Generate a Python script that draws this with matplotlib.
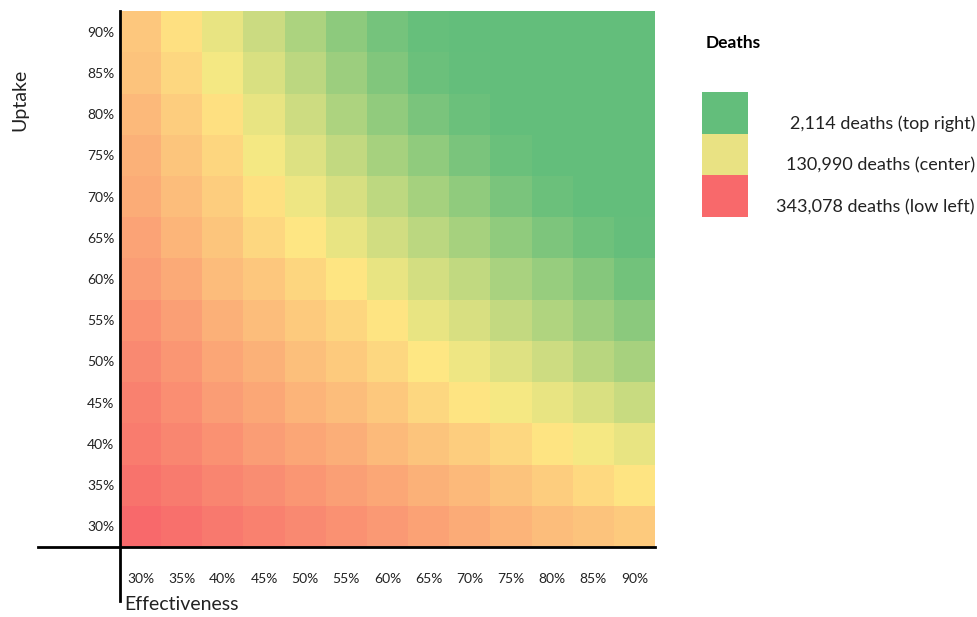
import numpy as np
import matplotlib
matplotlib.use("Agg")
import matplotlib.pyplot as plt
from matplotlib.colors import LinearSegmentedColormap, TwoSlopeNorm
from matplotlib.patches import Rectangle

plt.rcParams['font.family'] = ['Lato', 'DejaVu Sans']

# vaccine effectiveness (columns) and uptake (rows), in percent
effectiveness = [30, 35, 40, 45, 50, 55, 60, 65, 70, 75, 80, 85, 90]
uptake = [30, 35, 40, 45, 50, 55, 60, 65, 70, 75, 80, 85, 90]

# deaths, one row per uptake level (30% first)
deaths = [
    [343078, 330000, 315000, 302000, 290000, 276000, 262000, 250000, 235000, 220000, 205000, 194000, 184000],
    [326000, 313000, 296000, 283000, 268000, 254000, 241000, 224000, 211000, 194000, 178000, 160000, 141000],
    [311000, 294000, 276000, 258000, 243000, 229000, 209000, 193000, 178000, 163000, 141000, 123000, 112000],
    [302000, 281000, 258000, 241000, 220000, 205000, 186000, 163000, 141000, 123000, 112000, 100000, 86000],
    [290000, 267000, 243000, 224000, 201000, 184000, 164000, 137000, 117000, 104000, 90000, 73000, 59000],
    [276000, 254000, 226000, 205000, 184000, 165000, 141000, 112000, 99000, 82000, 66000, 51000, 36000],
    [258000, 236000, 207000, 188000, 165000, 140000, 112000, 95000, 80000, 61000, 46000, 31000, 16000],
    [247000, 218000, 191000, 163000, 139000, 112000, 93000, 75000, 58000, 40000, 25000, 12000, 4500],
    [233000, 205000, 178000, 148000, 117000, 98000, 77000, 57000, 40000, 22000, 10000, 3000, 2500],
    [224000, 191000, 165000, 122000, 103000, 81000, 58000, 40000, 22000, 9000, 3000, 2500, 2200],
    [211000, 178000, 148000, 112000, 90000, 64000, 41000, 22000, 10000, 3000, 2400, 2200, 2150],
    [194000, 163000, 122000, 100000, 76000, 50000, 28000, 10000, 3500, 2200, 2150, 2130, 2120],
    [188000, 149000, 112000, 88000, 63000, 38000, 18000, 6000, 2600, 2150, 2130, 2120, 2114],
]

legend_labels = ["2,114 deaths (top right)", "130,990 deaths (center)", "343,078 deaths (low left)"]
legend_colors = ["#63BE7B", "#E9E283", "#F8696B"]

data = np.array(deaths, dtype=float)
cmap = LinearSegmentedColormap.from_list("gyr", ["#63BE7B", "#FFEB84", "#F8696B"])
norm = TwoSlopeNorm(vmin=2114, vcenter=130990, vmax=343078)

fig = plt.figure(figsize=(9.78, 6.17), dpi=100)
ax = fig.add_axes([120 / 978, 1 - 547 / 617, 535 / 978, 536 / 617])
ax.imshow(data, cmap=cmap, norm=norm, origin="lower", aspect="auto")

for s in ax.spines.values():
    s.set_visible(False)
ax.set_xticks(range(len(effectiveness)), [f"{v}%" for v in effectiveness])
ax.set_yticks(range(len(uptake)), [f"{v}%" for v in uptake])
ax.tick_params(length=0, labelsize=10, colors="#222222")
ax.tick_params(axis="x", pad=19)
ax.tick_params(axis="y", pad=4)

# long black axis lines reaching past the grid
ax.plot([0, 0], [1, -0.1], color="black", lw=2, transform=ax.transAxes, clip_on=False)
ax.plot([-0.153, 1], [0, 0], color="black", lw=2, transform=ax.transAxes, clip_on=False)

fig.text(124 / 978, 1 - 605 / 617, "Effectiveness", fontsize=14, ha="left", va="center", color="#222222")
fig.text(20 / 978, 1 - 100 / 617, "Uptake", fontsize=14, rotation=90, ha="center", va="center", color="#222222")

# legend
fig.text(706 / 978, 1 - 43 / 617, "Deaths", fontsize=12.5, fontweight="bold", ha="left", va="center")
box_h = 41.5
for i, (lab, col) in enumerate(zip(legend_labels, legend_colors)):
    top = 92 + i * box_h
    fig.add_artist(Rectangle((702 / 978, 1 - (top + box_h) / 617), 46 / 978, box_h / 617,
                             transform=fig.transFigure, color=col, lw=0))
    fig.text(975 / 978, 1 - (top + 32) / 617, lab, fontsize=13, ha="right", va="center", color="#222222")

fig.savefig("out.png", dpi=100)
